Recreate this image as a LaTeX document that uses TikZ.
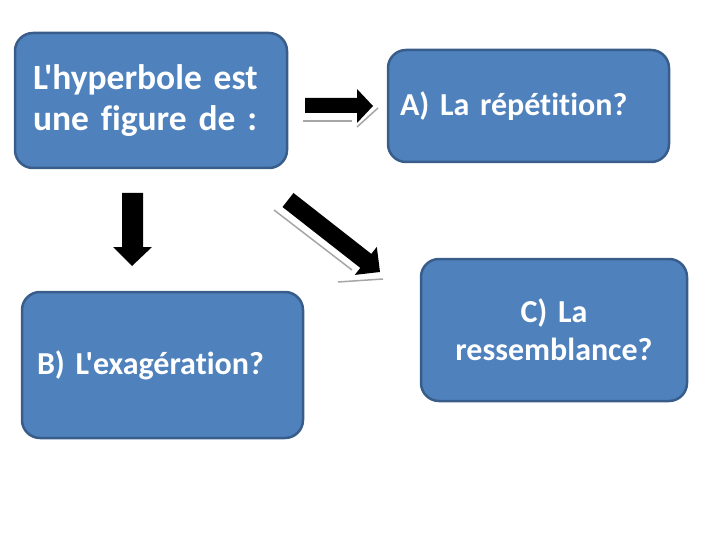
\documentclass[tikz,border=0pt]{standalone}
\usepackage{fontspec}
\setmainfont{Carlito}[Ligatures={TeXOff,CommonOff},WordSpace=0.7]
\definecolor{boxfill}{HTML}{4F81BD}
\definecolor{boxline}{HTML}{385D8A}
\definecolor{shadowgray}{HTML}{A6A6A6}
\begin{document}
\begin{tikzpicture}[x=1pt,y=-1pt,
  box/.style={draw=boxline, line width=2.5pt, fill=boxfill, rounded corners=18pt,
    text=white, font=\fontsize{32}{38}\selectfont\bfseries, inner ysep=0pt},
  bigtext/.style={font=\fontsize{35.5}{41}\selectfont\bfseries},
  blockarrow/.style={fill=black, draw=none},
  shadowline/.style={draw=shadowgray, line width=1.5pt}]
\useasboundingbox (0,0) rectangle (720,540);
% boxes
\node[box, bigtext, minimum height=135, text width=236, inner xsep=18, align=left] (q) at (151,100.5)
  {L'hyperbole est\\une figure de :};
\node[box, minimum height=112, text width=257, inner xsep=12, align=left] (a) at (528.5,106)
  {A) La répétition?};
\node[box, minimum height=146, text width=251, inner xsep=15, align=left] (b) at (162.5,365)
  {B) L'exagération?};
\node[box, minimum height=142, text width=246, inner xsep=10, align=center] (c) at (554,330)
  {C) La\\ressemblance?};
% shadow lines
\draw[shadowline] (303,121) -- (352,121);
\draw[shadowline] (357,127) -- (378,108);
\draw[shadowline] (274,210) -- (352,270);
\draw[shadowline] (338,282) -- (383,279);
% block arrows
\fill[blockarrow] (305,98) -- (357,98) -- (357,89) -- (373,106) -- (357,123) -- (357,113) -- (305,113) -- cycle;
\fill[blockarrow] (122,193) -- (143,193) -- (143,247) -- (152,247) -- (132,266) -- (113,247) -- (122,247) -- cycle;
\fill[blockarrow] (293.5,193) -- (371.3,253.9) -- (376.8,246.9) -- (380,272) -- (354.8,274.9) -- (360.3,267.9) -- (282.5,207) -- cycle;
\end{tikzpicture}
\end{document}
